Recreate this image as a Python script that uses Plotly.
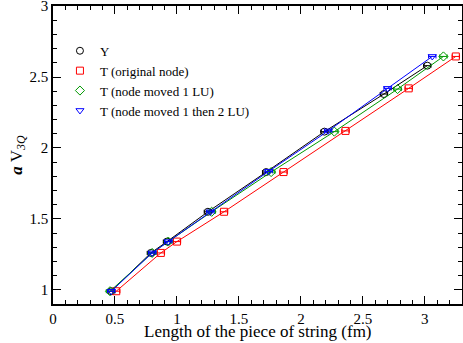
import plotly.graph_objects as go

# cluster values
y_x = [0.47, 0.79, 0.92, 1.25, 1.72, 2.19, 2.67, 3.02]
y_y = [0.99, 1.26, 1.34, 1.55, 1.83, 2.115, 2.38, 2.58]

t_orig_x = [0.51, 0.87, 1.00, 1.38, 1.86, 2.36, 2.87, 3.25]
t_orig_y = [0.99, 1.26, 1.34, 1.55, 1.83, 2.12, 2.42, 2.645]

t_1lu_x = [0.46, 0.80, 0.93, 1.28, 1.76, 2.27, 2.78, 3.15]
t_1lu_y = [0.99, 1.26, 1.34, 1.55, 1.83, 2.115, 2.415, 2.645]

t_2lu_x = [0.47, 0.80, 0.93, 1.27, 1.74, 2.22, 2.70, 3.06]
t_2lu_y = [0.99, 1.26, 1.34, 1.55, 1.835, 2.12, 2.42, 2.645]

x_err = [0.03] * 8

series = [
    ("Y", y_x, y_y, "black", "circle-open"),
    ("T (original node)", t_orig_x, t_orig_y, "red", "square-open"),
    ("T (node moved 1 LU)", t_1lu_x, t_1lu_y, "#009900", "diamond-open"),
    ("T (node moved 1 then 2 LU)", t_2lu_x, t_2lu_y, "blue", "triangle-down-open"),
]

FONT = "Liberation Serif"

fig = go.Figure()
for name, xs, ys, color, symbol in series:
    fig.add_trace(go.Scatter(
        x=xs, y=ys, mode="lines+markers", showlegend=False,
        line=dict(color=color, width=1),
        marker=dict(symbol=symbol, size=7, color=color, line=dict(width=1, color=color)),
        error_x=dict(type="data", array=x_err, color=color, thickness=1, width=2),
    ))
for name, xs, ys, color, symbol in series:
    fig.add_trace(go.Scatter(
        x=[None], y=[None], mode="markers", name=name,
        marker=dict(symbol=symbol, size=7, color=color, line=dict(width=1, color=color)),
    ))

axis_style = dict(
    showgrid=False, zeroline=False, showline=True, linecolor="black", linewidth=1.5,
    mirror="allticks", ticks="inside", ticklen=8, tickwidth=1, tickcolor="black",
    tickfont=dict(family=FONT, size=15, color="black"), automargin=False,
    ticklabeloverflow="allow",
    minor=dict(ticks="inside", ticklen=4, tickwidth=1, tickcolor="black", dtick=0.1),
)

fig.update_xaxes(range=[0, 3.3], dtick=0.5, tick0=0, **axis_style)
fig.update_yaxes(
    range=[0.9, 3.0005], dtick=0.5, tick0=0,
    title=dict(text="<b><i>a</i></b> V<sub><i>3Q</i></sub>", font=dict(family=FONT, size=17, color="black"), standoff=3),
    **axis_style,
)

# x title as an annotation so it can sit tight under the tick labels
fig.add_annotation(
    text="Length of the piece of string (fm)", xref="paper", yref="paper",
    x=0.5, y=-0.092, xanchor="center", yanchor="middle", showarrow=False,
    font=dict(family=FONT, size=17, color="black"),
)

fig.update_layout(
    width=463, height=343,
    margin=dict(l=53, r=1, t=6, b=39),
    paper_bgcolor="white", plot_bgcolor="white",
    font=dict(family=FONT, color="black"),
    legend=dict(
        x=0.017, y=0.90, xanchor="left", yanchor="top",
        bgcolor="rgba(0,0,0,0)", font=dict(family=FONT, size=13, color="black"),
        itemwidth=30, tracegroupgap=0,
    ),
)

# the page body has a default 8px margin; drop it so the figure sits at 0,0
fig.write_html(
    "out.html",
    config={"displayModeBar": False},
    post_script="document.body.style.margin='0px';",
)
